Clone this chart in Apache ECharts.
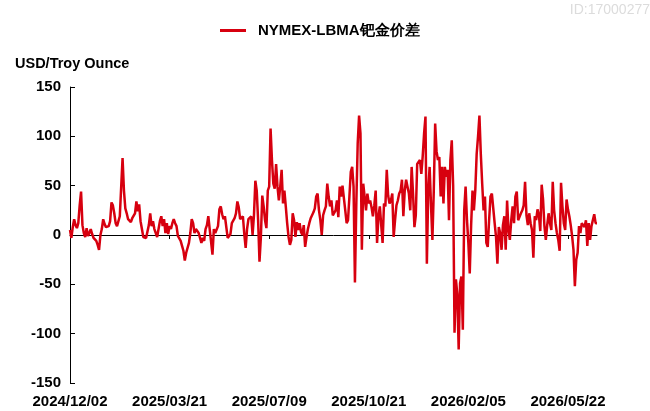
<!DOCTYPE html>
<html>
<head>
<meta charset="utf-8">
<script src="https://cdn.jsdelivr.net/npm/echarts@6/dist/echarts.min.js"></script>
<style>
html, body { margin: 0; padding: 0; background: #fff; }
#main { width: 650px; height: 411px; }
</style>
</head>
<body>
<div id="main"></div>
<script>
// trading days: weekdays from the first date, minus market holidays
var startDate = '2024-12-02';
var holidays = ['2024-12-24', '2024-12-25', '2024-12-26', '2024-12-31', '2025-01-01', '2025-01-20',
    '2025-02-17', '2025-04-18', '2025-04-21', '2025-05-05', '2025-05-26', '2025-06-19', '2025-07-04',
    '2025-08-25', '2025-09-01', '2025-11-27', '2025-12-25', '2025-12-26', '2026-01-01', '2026-01-19',
    '2026-02-16', '2026-04-03', '2026-04-06', '2026-05-04', '2026-05-25'];

// NYMEX-LBMA palladium spread, USD/Troy Ounce, one block per label period
var spread1 = [5, -3, 8, 16, 10, 7, 12, 30, 44, 10, 2, -2, 7, -1, 2, 6, 1, -3, -4, -6,
    -10, -15, 0, 6, 16, 11, 8, 7, 9, 14, 33, 30, 22, 12, 9, 11, 19, 17, 78, 45,
    27, 22, 16, 14, 13, 17, 16, 22, 34, 24, 31, 14, 6, -2, -4, -3, -3, 10, 22, 9,
    14, 6, 2, -2, -4, 14, 19, 9, 16, 2, 12, 1];
var spread2 = [9, 6, 12, 16, 12, 9, -1, -1, -6, -11, -16, -26, -18, -18, -8, 2, 16, 12, 2, 6,
    4, 2, -3, -8, -3, -6, 6, 10, 19, 6, 7, -20, 6, 2, 2, 9, 26, 29, 21, 16,
    19, 19, -3, -3, 1, 12, 12, 17, 22, 34, 28, 16, 16, 19, 1, -13, 6, 16, 16, 19,
    0, 20, 55, 45, 15, -27, -2, 40, 29, 15, 7, 45];
var spread3 = [49, 108, 76, 52, 47, 72, 49, 35, 49, 66, 32, 45, 29, 12, -2, -10, -5, 22, 15, -2,
    13, 5, 12, 3, 0, 10, -12, -2, 6, 12, 17, 19, 23, 27, 39, 42, 25, 15, 0, 20,
    25, 29, 52, 39, 29, 35, 20, 18, 25, 35, 18, 49, 39, 50, 52, 25, 12, 15, 39, 64,
    69, 49, -48, 32, 93, 121, 103, -15, 52, 39, 25, 42];
var spread4 = [32, 35, 28, 19, 30, 45, -8, 19, 29, 10, -8, 32, 29, 66, 40, 32, 35, 42, -2, 15,
    30, 35, 42, 45, 56, 19, 45, 56, 49, 42, 25, 69, 42, 8, 20, 72, 72, 76, 62, 80,
    103, 120, -29, 45, 69, 30, -5, 45, 113, 85, 76, 79, 39, 69, 32, 69, 59, 66, 15, 76,
    96, 50, -99, -45, -60, -116, -49, -42, -96, 25, 49, 15];
var spread5 = [-8, -39, 10, 45, 25, 45, 82, 100, 121, 82, 52, 25, 39, -8, -12, 15, 39, 42, 42, 12,
    -2, -29, 8, 2, -15, 10, 19, -15, 35, 5, -5, 15, 29, 12, 39, 44, 15, 15, 22, 25,
    30, 54, 20, 10, 22, 12, 5, -23, 19, 15, 26, 20, 4, 51, 36, 9, -5, 10, 22, 12,
    5, 54, 25, 12, 2, -5, -16, 53, 29, 12, 5, 36];
var spread6 = [26, 19, 10, -1, -15, -52, -25, -18, 9, 2, 12, 12, 8, 15, -11, 12, -5, 9, 10, 21,
    12, 12];

var values = spread1.concat(spread2, spread3, spread4, spread5, spread6);

function pad(n) { return n < 10 ? '0' + n : '' + n; }
var dates = [];
var d = new Date(startDate + 'T00:00:00Z');
while (dates.length < values.length) {
    var key = d.getUTCFullYear() + '-' + pad(d.getUTCMonth() + 1) + '-' + pad(d.getUTCDate());
    var wd = d.getUTCDay();
    if (wd !== 0 && wd !== 6 && holidays.indexOf(key) < 0) {
        dates.push(key.replace(/-/g, '/'));
    }
    d.setUTCDate(d.getUTCDate() + 1);
}

var font = 'Liberation Sans, Arial, sans-serif';

var option = {
    animation: false,
    backgroundColor: '#fff',
    title: {
        text: 'USD/Troy Ounce',
        left: 10,
        top: 51,
        textStyle: { fontFamily: font, fontSize: 14.5, fontWeight: 'bold', color: '#000' }
    },
    legend: {
        top: 18,
        left: 215,
        icon: 'rect',
        itemWidth: 26,
        itemHeight: 3,
        textStyle: { fontFamily: font, fontSize: 15, fontWeight: 'bold', color: '#000', padding: [0, 0, 0, 7] },
        data: ['NYMEX-LBMA钯金价差']
    },
    graphic: [{
        type: 'text',
        right: 0,
        top: 3,
        style: { text: 'ID:17000277', fill: '#dcdcdc', font: '14px ' + font }
    }],
    grid: { left: 70, right: 53, top: 87, bottom: 28 },
    xAxis: [{
        type: 'category',
        data: dates,
        boundaryGap: false,
        position: 'bottom',
        axisLine: { show: false, onZero: false },
        axisTick: { show: false },
        splitLine: { show: false },
        axisLabel: {
            interval: 71,
            margin: 11,
            fontFamily: font,
            fontSize: 15,
            fontWeight: 'bold',
            color: '#000'
        }
    }, {
        type: 'category',
        data: dates,
        boundaryGap: false,
        axisLine: { show: true, onZero: true, lineStyle: { color: '#000', width: 1 } },
        axisTick: { show: true, inside: true, interval: 71, length: 4, lineStyle: { color: '#000' } },
        axisLabel: { show: false },
        splitLine: { show: false }
    }],
    yAxis: {
        type: 'value',
        min: -150,
        max: 150,
        interval: 50,
        axisLine: { show: true, lineStyle: { color: '#000', width: 1 } },
        axisTick: { show: true, inside: true, length: 5, lineStyle: { color: '#000' } },
        splitLine: { show: false },
        axisLabel: {
            margin: 9,
            fontFamily: font,
            fontSize: 15,
            fontWeight: 'bold',
            color: '#000'
        }
    },
    series: [{
        name: 'NYMEX-LBMA钯金价差',
        type: 'line',
        xAxisIndex: 0,
        data: values,
        showSymbol: false,
        symbol: 'none',
        itemStyle: { color: '#d7000f' },
        lineStyle: { color: '#d7000f', width: 2.5 }
    }]
};

var myChart = echarts.init(document.getElementById('main'));
myChart.setOption(option);
</script>
</body>
</html>
